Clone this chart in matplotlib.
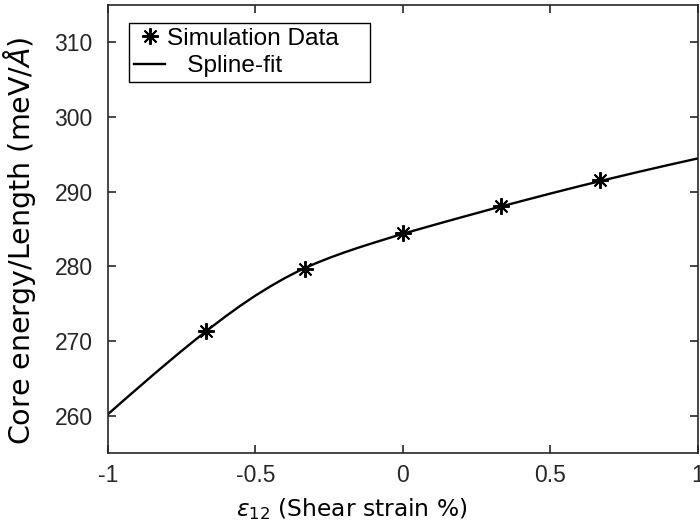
import matplotlib
matplotlib.use('Agg')
import matplotlib.pyplot as plt

# simulation points
strain = [-2/3, -1/3, 0, 1/3, 2/3]
energy = [271.4, 279.6, 284.4, 288.1, 291.5]

# spline-fit curve
fit_x = [-1.0, -0.95, -0.9, -0.85, -0.8, -0.75, -0.7, -0.65, -0.6, -0.55, -0.5,
         -0.45, -0.4, -0.35, -0.3, -0.25, -0.2, -0.15, -0.1, -0.05, 0.0,
         0.1, 0.2, 0.3, 0.4, 0.5, 0.6, 0.7, 0.8, 0.9, 1.0]
fit_y = [260.20, 261.94, 263.65, 265.36, 267.03, 268.68, 270.28, 271.83, 273.33, 274.75, 276.08,
         277.30, 278.43, 279.45, 280.33, 281.12, 281.84, 282.51, 283.14, 283.75, 284.36,
         285.48, 286.58, 287.66, 288.71, 289.74, 290.74, 291.71, 292.65, 293.56, 294.44]

xticks = [-1, -0.5, 0, 0.5, 1]
xticklabels = ['-1', '-0.5', '0', '0.5', '1']
yticks = [260, 270, 280, 290, 300, 310]

fig = plt.figure(figsize=(7, 5.27), dpi=100)
ax = fig.add_axes([0.154, 0.140, 0.843, 0.851])

ax.plot(strain, energy, linestyle='none', marker=(8, 2, 0), markersize=12,
        markeredgewidth=1.4, color='k', label='Simulation Data    ')
ax.plot(fit_x, fit_y, color='k', linewidth=1.7, label='   Spline-fit')

ax.set_xlim(-1, 1)
ax.set_ylim(255, 315)
ax.set_xticks(xticks)
ax.set_xticklabels(xticklabels)
ax.set_yticks(yticks)

spine_col = '#262626'
for s in ax.spines.values():
    s.set_color(spine_col)
    s.set_linewidth(1.2)
ax.tick_params(direction='in', top=True, right=True, length=6, width=1.2,
               color=spine_col, labelcolor=spine_col, labelsize=16.5)
ax.tick_params(axis='y', pad=11)
ax.tick_params(axis='x', pad=8)
for lab in ax.get_xticklabels() + ax.get_yticklabels():
    lab.set_family('Liberation Sans')

ax.set_xlabel(r'$\epsilon_{12}$ (Shear strain %)', fontsize=16.8, family='DejaVu Sans')
ax.set_ylabel(r'Core energy/Length (meV/$\AA$)', fontsize=20.5, family='DejaVu Sans')
ax.xaxis.set_label_coords(0.414, -0.095)
ax.yaxis.set_label_coords(-0.119, 0.475)

leg = ax.legend(loc='upper left', bbox_to_anchor=(0.0356, 0.96),
                prop={'family': 'Liberation Sans', 'size': 17.6},
                fancybox=False, framealpha=1, edgecolor='k',
                handlelength=1.3, handletextpad=0.05, borderpad=0.2,
                labelspacing=0.22, borderaxespad=0)
leg.get_frame().set_linewidth(1.0)

fig.savefig('out.png', dpi=100)
